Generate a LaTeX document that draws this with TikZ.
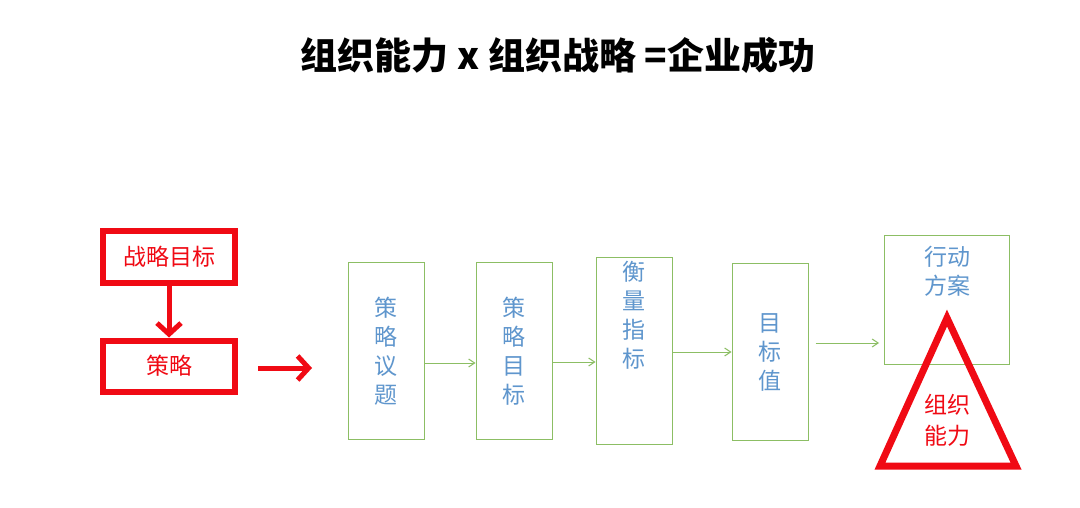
\documentclass[tikz,border=0pt]{standalone}
\usepackage{fontspec}
\usepackage{xcolor}
\usepackage{tikz}
\usetikzlibrary{positioning, calc, arrows.meta}
\newfontfamily\cjk{Noto Sans CJK SC}
\definecolor{boxgreen}{RGB}{140,190,100}
\definecolor{textblue}{RGB}{95,150,205}
\definecolor{mainred}{RGB}{240,10,20}

\begin{document}
\begin{tikzpicture}[
    x = 1pt, y = -1pt, align=center,
    goal/.style = {rectangle, draw = mainred, line width = 6pt, minimum height = 51pt, minimum width = 132pt, text = mainred, font = \cjk\fontsize{23}{27}\selectfont},
    stage/.style = {rectangle, draw = boxgreen, line width = 1pt, minimum width = 76pt, minimum height = 177pt, text = textblue, font = \cjk\fontsize{23}{29}\selectfont},
    flow/.style = {-{Straight Barb[length=6pt, width=8pt]}, draw = boxgreen, line width = 1pt},
    push/.style = {-{Straight Barb[length=11pt, width=24pt]}, draw = mainred, line width = 5pt},
    ]

    \useasboundingbox (0,0) rectangle (1080,508);
    \fill[white] (0,0) rectangle (1080,508);

    % title
    \node [font = \cjk\bfseries\fontsize{37}{42}\selectfont] (title) at (558,55) {组织能力 x 组织战略 =企业成功};

    % red strategy blocks
    \node [goal] (sgoal)  at (169,257)  {战略目标};
    \node [goal] (tactic) at (169,366)  {策略};
    \coordinate (pushstart) at (258,368);
    \coordinate (pushend)   at (312,368);

    % green stages
    \node [stage] (issue)   at (386,351) {策\\略\\议\\题};
    \node [stage] (target)  at (514,351) {策\\略\\目\\标};
    \node [stage] (measure) at (634,351) {衡\\量\\指\\标\\[45pt]};
    \node [stage] (value)   at (770,352) {目\\标\\值};
    \node [stage, minimum width = 125pt, minimum height = 128pt] (action) at (947,300) {行动\\方案\\[30pt]};

    % capability triangle
    \coordinate (apex)  at (947,318);
    \coordinate (left)  at (880,466);
    \coordinate (right) at (1016,466);
    \draw [mainred, line width = 7pt, line join = miter] (apex) -- (left) -- (right) -- cycle;
    \node [text = mainred, font = \cjk\fontsize{23}{31}\selectfont] (capability) at (947,420) {组织\\能力};

    % draw paths
    \draw [push] (sgoal) -- (tactic);
    \draw [push] (pushstart) -- (pushend);
    \draw [flow] (issue.east |- 0,363) -- (target.west |- 0,363);
    \draw [flow] (target.east |- 0,362) -- (measure.west |- 0,362);
    \draw [flow] (measure.east |- 0,352) -- (value.west |- 0,352);
    \draw [flow] ($(value.east |- 0,343)+(7,0)$) -- ($(action.west |- 0,343)+(-5,0)$);
\end{tikzpicture}
\end{document}
